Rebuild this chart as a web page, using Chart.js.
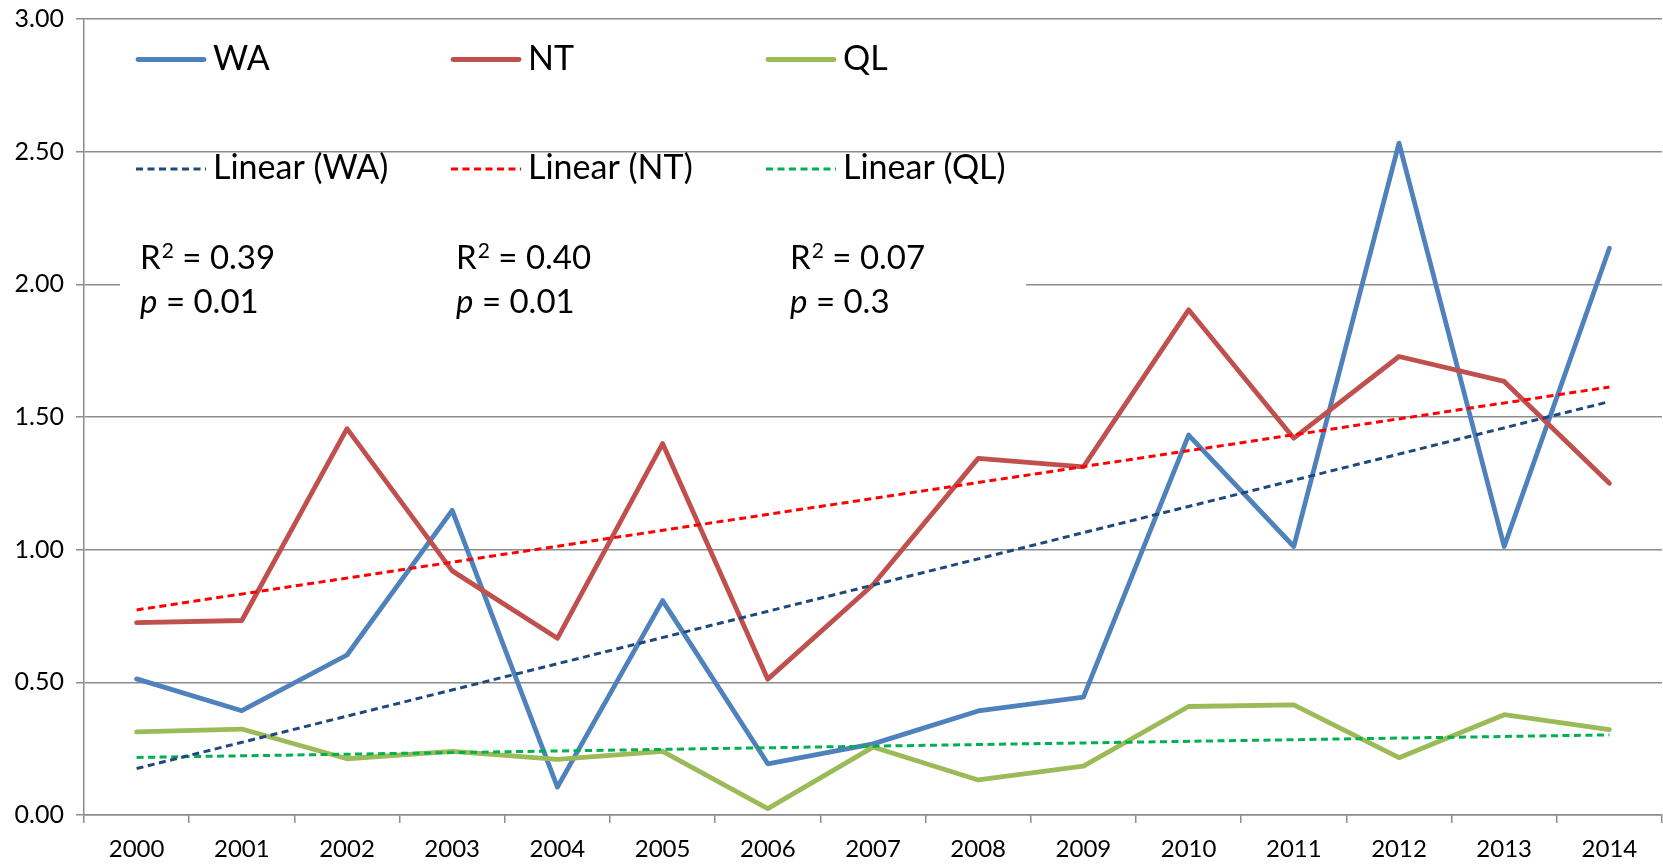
<!DOCTYPE html>
<html>
<head>
<meta charset="utf-8">
<script src="https://cdn.jsdelivr.net/npm/chart.js@4.4.1/dist/chart.umd.min.js"></script>
<style>
  html, body { margin: 0; padding: 0; background: #ffffff; }
  #wrap { width: 1663px; height: 864px; position: relative; }
</style>
</head>
<body>
<div id="wrap"><canvas id="c" width="1663" height="864"></canvas></div>
<script>
// ---- data ----
const categories = ['2000','2001','2002','2003','2004','2005','2006','2007','2008','2009','2010','2011','2012','2013','2014'];
const waValues = [0.513, 0.393, 0.603, 1.148, 0.105, 0.808, 0.193, 0.268, 0.392, 0.444, 1.432, 1.012, 2.532, 1.012, 2.136];
const ntValues = [0.725, 0.733, 1.456, 0.920, 0.666, 1.400, 0.512, 0.868, 1.344, 1.312, 1.904, 1.420, 1.728, 1.634, 1.250];
const qlValues = [0.313, 0.324, 0.212, 0.240, 0.210, 0.240, 0.024, 0.256, 0.132, 0.184, 0.409, 0.415, 0.216, 0.378, 0.322];
const trendYears = ['2000', '2014'];
const waTrend = [0.175, 1.558];
const ntTrend = [0.773, 1.613];
const qlTrend = [0.217, 0.302];
const seriesNames = ['WA', 'NT', 'QL'];
const trendNames = ['Linear (WA)', 'Linear (NT)', 'Linear (QL)'];
const r2Labels = ['0.39', '0.40', '0.07'];
const pLabels = ['0.01', '0.01', '0.3'];
const yMin = 0, yMax = 3, yStep = 0.5;

const FONT = 'Lato';
const GRID = '#8c8c8c';

function pts(years, vals) { return years.map((y, i) => ({ x: y, y: vals[i] })); }

const legendPlugin = {
  id: 'customLegend',
  beforeDatasetsDraw(chart) {
    const ctx = chart.ctx;
    ctx.save();
    ctx.fillStyle = '#ffffff';
    ctx.fillRect(120, 226, 906, 106);
    ctx.restore();
  },
  afterDraw(chart) {
    const ctx = chart.ctx;
    const ds = chart.data.datasets;
    const colX = [136, 451, 766];
    const rows = [
      { idx: [0, 1, 2], lineY: 59.5, baseY: 69.5 },
      { idx: [3, 4, 5], lineY: 169, baseY: 178.5 }
    ];
    ctx.save();
    rows.forEach(row => {
      row.idx.forEach((di, k) => {
        const d = ds[di];
        const x0 = colX[k];
        ctx.beginPath();
        ctx.strokeStyle = d.borderColor;
        ctx.lineWidth = d.borderWidth;
        if (d.borderDash) { ctx.setLineDash(d.borderDash); ctx.lineCap = 'butt'; ctx.moveTo(x0, row.lineY); ctx.lineTo(x0 + 70, row.lineY); }
        else { ctx.setLineDash([]); ctx.lineCap = 'round'; ctx.moveTo(x0 + 2, row.lineY); ctx.lineTo(x0 + 68, row.lineY); }
        ctx.stroke();
        ctx.setLineDash([]);
        ctx.fillStyle = '#000';
        ctx.font = '34px ' + FONT;
        ctx.textBaseline = 'alphabetic';
        ctx.textAlign = 'left';
        ctx.fillText(d.label, x0 + 77, row.baseY);
      });
    });
    // R² and p annotations
    const statX = [140, 456, 790];
    statX.forEach((x, k) => {
      const b1 = 269, b2 = 313;
      ctx.font = '33px ' + FONT;
      ctx.fillStyle = '#000';
      ctx.fillText('R', x, b1);
      let w = ctx.measureText('R').width;
      ctx.font = '21px ' + FONT;
      ctx.fillText('2', x + w + 1, b1 - 11);
      w += ctx.measureText('2').width + 1;
      ctx.font = '33px ' + FONT;
      ctx.fillText(' = ' + r2Labels[k], x + w, b1);
      ctx.font = 'italic 33px ' + FONT;
      ctx.fillText('p', x, b2);
      const wp = ctx.measureText('p').width;
      ctx.font = '33px ' + FONT;
      ctx.fillText(' = ' + pLabels[k], x + wp, b2);
    });
    ctx.restore();
  }
};

const lineBase = { pointRadius: 0, pointHoverRadius: 0, tension: 0, fill: false, borderCapStyle: 'round', borderJoinStyle: 'round' };
const trendBase = { pointRadius: 0, pointHoverRadius: 0, tension: 0, fill: false, borderWidth: 3, borderDash: [7, 4.5], borderCapStyle: 'butt', order: 0 };

new Chart(document.getElementById('c'), {
  type: 'line',
  data: {
    labels: categories,
    datasets: [
      Object.assign({ label: seriesNames[0], data: waValues, borderColor: '#4F81BD', borderWidth: 4.8, order: 3 }, lineBase),
      Object.assign({ label: seriesNames[1], data: ntValues, borderColor: '#C0504D', borderWidth: 4.8, order: 2 }, lineBase),
      Object.assign({ label: seriesNames[2], data: qlValues, borderColor: '#9BBB59', borderWidth: 4.8, order: 1 }, lineBase),
      Object.assign({ label: trendNames[0], data: pts(trendYears, waTrend), borderColor: '#1F497D' }, trendBase),
      Object.assign({ label: trendNames[1], data: pts(trendYears, ntTrend), borderColor: '#FF0000' }, trendBase),
      Object.assign({ label: trendNames[2], data: pts(trendYears, qlTrend), borderColor: '#00B050' }, trendBase)
    ]
  },
  options: {
    responsive: false,
    animation: false,
    events: [],
    layout: { padding: { top: 19, right: 1, left: 0, bottom: 0 } },
    plugins: { legend: { display: false }, tooltip: { enabled: false } },
    scales: {
      x: {
        type: 'category',
        offset: true,
        grid: { drawOnChartArea: false, drawTicks: true, tickLength: 8, offset: true, color: GRID, lineWidth: 1.5 },
        border: { display: true, color: GRID, width: 1.5 },
        ticks: { color: '#000', font: { family: FONT, size: 24 }, padding: 12, maxRotation: 0, autoSkip: false },
        afterFit(s) { s.height = 49; s.paddingLeft = 0; s.paddingRight = 0; }
      },
      y: {
        min: yMin, max: yMax,
        grid: { color: GRID, lineWidth: 1.5, tickLength: 8, drawTicks: true },
        border: { display: true, color: GRID, width: 1.5 },
        ticks: { stepSize: yStep, color: '#000', font: { family: FONT, size: 25 }, padding: 12, callback: v => v.toFixed(2) },
        afterFit(s) { s.width = 84; s.paddingTop = 0; s.paddingBottom = 0; }
      }
    }
  },
  plugins: [legendPlugin]
});
</script>
</body>
</html>
